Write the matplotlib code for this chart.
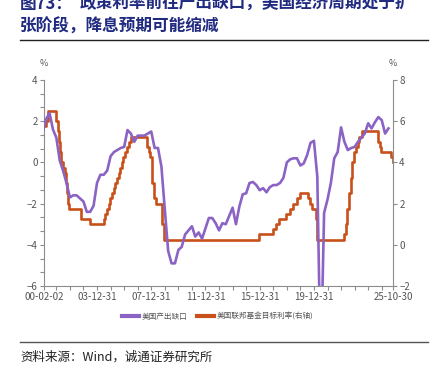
import numpy as np
import pandas as pd
import matplotlib
matplotlib.use("Agg")
import matplotlib.pyplot as plt
import matplotlib.dates as mdates
from matplotlib.ticker import MultipleLocator, FixedLocator, NullFormatter
from matplotlib.lines import Line2D

plt.rcParams['font.family'] = ['Noto Sans CJK SC', 'DejaVu Sans']

# US output gap (%), quarterly, quarter-end dates
gap_dates = pd.date_range("1999-12-31", "2025-06-30", freq="QE")
gap_vals = [
    1.5,
    2.1, 2.4, 1.6, 1.2,
    0.1, -0.4, -1.0, -1.7,
    -1.6, -1.6, -1.75, -1.9,
    -2.4, -2.4, -2.1, -1.0,
    -0.6, -0.6, -0.4, 0.3,
    0.5, 0.6, 0.7, 0.75,
    1.57, 1.4, 1.0, 1.3,
    1.3, 1.3, 1.4, 1.5,
    0.7, 0.7, -0.2, -2.3,
    -4.3, -4.9, -4.9, -4.25,
    -4.1, -3.5, -3.3, -3.1,
    -3.6, -3.4, -3.7, -3.2,
    -2.7, -2.7, -2.95, -3.3,
    -2.95, -3.0, -2.6, -2.2,
    -3.0, -2.15, -1.55, -1.5,
    -1.0, -0.95, -1.1, -1.35,
    -1.25, -1.45, -1.2, -1.1,
    -1.1, -1.0, -0.75, 0.0,
    0.15, 0.2, 0.2, -0.15,
    -0.05, 0.35, 0.95, 1.05,
    -0.7, -10.2, -2.45, -1.8,
    -1.0, 0.2, 0.5, 1.7,
    1.0, 0.6, 0.7, 0.75,
    1.0, 1.2, 1.4, 1.9,
    1.65, 1.95, 2.2, 2.05,
    1.4, 1.65,
]

# Fed funds target rate (upper bound, %), dates of change
ff_dates = pd.to_datetime([
    "2000-02-02", "2000-03-21", "2000-05-16",
    "2001-01-03", "2001-01-31", "2001-03-20", "2001-04-18", "2001-05-15",
    "2001-06-27", "2001-08-21", "2001-09-17", "2001-10-02", "2001-11-06",
    "2001-12-11", "2002-11-06", "2003-06-25",
    "2004-06-30", "2004-08-10", "2004-09-21", "2004-11-10", "2004-12-14",
    "2005-02-02", "2005-03-22", "2005-05-03", "2005-06-30", "2005-08-09",
    "2005-09-20", "2005-11-01", "2005-12-13", "2006-01-31", "2006-03-28",
    "2006-05-10", "2006-06-29",
    "2007-09-18", "2007-10-31", "2007-12-11", "2008-01-22", "2008-01-30",
    "2008-03-18", "2008-04-30", "2008-10-08", "2008-10-29", "2008-12-16",
    "2015-12-16", "2016-12-14", "2017-03-15", "2017-06-14", "2017-12-13",
    "2018-03-21", "2018-06-13", "2018-09-26", "2018-12-19",
    "2019-07-31", "2019-09-18", "2019-10-30", "2020-03-03", "2020-03-15",
    "2022-03-16", "2022-05-04", "2022-06-15", "2022-07-27", "2022-09-21",
    "2022-11-02", "2022-12-14", "2023-02-01", "2023-03-22", "2023-05-03",
    "2023-07-26", "2024-09-18", "2024-11-07", "2024-12-18",
    "2025-09-17", "2025-10-29", "2025-10-30",
])
ff_vals = [
    5.75, 6.0, 6.5,
    6.0, 5.5, 5.0, 4.5, 4.0,
    3.75, 3.5, 3.0, 2.5, 2.0,
    1.75, 1.25, 1.0,
    1.25, 1.5, 1.75, 2.0, 2.25,
    2.5, 2.75, 3.0, 3.25, 3.5,
    3.75, 4.0, 4.25, 4.5, 4.75,
    5.0, 5.25,
    4.75, 4.5, 4.25, 3.5, 3.0,
    2.25, 2.0, 1.5, 1.0, 0.25,
    0.5, 0.75, 1.0, 1.25, 1.5,
    1.75, 2.0, 2.25, 2.5,
    2.25, 2.0, 1.75, 1.25, 0.25,
    0.5, 1.0, 1.75, 2.5, 3.25,
    4.0, 4.5, 4.75, 5.0, 5.25,
    5.5, 5.0, 4.75, 4.5,
    4.25, 4.0, 4.0,
]

label_dates = ["2000-02-02", "2003-12-31", "2007-12-31", "2011-12-31",
               "2015-12-31", "2019-12-31", "2025-10-30"]
label_texts = ["00-02-02", "03-12-31", "07-12-31", "11-12-31",
               "15-12-31", "19-12-31", "25-10-30"]
minor_dates = [f"{y}-12-31" for y in range(2000, 2025)]

purple = "#8B63C4"
orange = "#C8501A"
axis_gray = "#8C8C8C"
text_gray = "#555555"
navy = "#1F2A80"

fig = plt.figure(figsize=(4.35, 3.81), dpi=100)
ax = fig.add_axes([44 / 435, 1 - 286 / 381, (393 - 44) / 435, (286 - 80) / 381])
ax2 = ax.twinx()

ax.plot(gap_dates, gap_vals, color=purple, lw=1.9, zorder=3)
ax2.plot(ff_dates, ff_vals, color=orange, lw=1.9, drawstyle="steps-post", zorder=2)
ax.set_zorder(ax2.get_zorder() + 1)
ax.patch.set_visible(False)

start, end = pd.Timestamp("2000-02-02"), pd.Timestamp("2025-10-30")
ax.set_xlim(start, end)
ax.set_ylim(-6, 4)
ax2.set_ylim(-2, 8)

# x ticks: labelled ones plus one tick per year end
ax.xaxis.set_major_locator(FixedLocator(mdates.date2num(pd.to_datetime(label_dates))))
ax.set_xticklabels(label_texts)
ax.xaxis.set_minor_locator(FixedLocator(mdates.date2num(pd.to_datetime(minor_dates))))
ax.xaxis.set_minor_formatter(NullFormatter())

ax.yaxis.set_major_locator(MultipleLocator(2))
ax.yaxis.set_minor_locator(MultipleLocator(2 / 3))
ax2.yaxis.set_major_locator(MultipleLocator(2))

for a in (ax, ax2):
    for s in a.spines.values():
        s.set_visible(False)
    a.tick_params(which="both", colors=axis_gray, labelcolor=text_gray,
                  labelsize=7, length=3, width=0.8, direction="out", pad=1.5)

ax.spines["left"].set_visible(True)
ax.spines["bottom"].set_visible(True)
ax2.spines["right"].set_visible(True)
for s in (ax.spines["left"], ax.spines["bottom"], ax2.spines["right"]):
    s.set_color(axis_gray)
    s.set_linewidth(0.8)

ax.text(0, 1.08, "%", transform=ax.transAxes, ha="center", va="center",
        fontsize=6.5, color=text_gray)
ax2.text(1, 1.08, "%", transform=ax2.transAxes, ha="center", va="center",
         fontsize=6.5, color=text_gray)

# legend
handles = [Line2D([], [], color=purple, lw=3), Line2D([], [], color=orange, lw=3)]
fig.legend(handles, ["美国产出缺口", "美国联邦基金目标利率(右轴)"],
           loc="center", bbox_to_anchor=(218 / 435, 1 - 317 / 381), ncol=2,
           frameon=False, fontsize=5.5, handlelength=2.2, handletextpad=0.4,
           columnspacing=1.2, labelcolor=text_gray)

# title (first line partly cut off at the top, as in the source page)
fig.text(20 / 435, 1 - 4 / 381, "图73：", fontsize=12, color=navy,
         fontweight="bold", va="center", ha="left")
fig.text(80 / 435, 1 - 4 / 381, "政策利率前往产出缺口，美国经济周期处于扩",
         fontsize=12, color=navy, fontweight="bold", va="center", ha="left")
fig.text(20 / 435, 1 - 27 / 381, "张阶段，降息预期可能缩减", fontsize=12,
         color=navy, fontweight="bold", va="center", ha="left")

fig.add_artist(Line2D([20 / 435, 428 / 435], [1 - 40 / 381, 1 - 40 / 381],
                      color="#222222", lw=1.0))
fig.add_artist(Line2D([20 / 435, 428 / 435], [1 - 342 / 381, 1 - 342 / 381],
                      color="#555555", lw=1.0))
fig.text(20 / 435, 1 - 357 / 381, "资料来源：Wind，诚通证券研究所", fontsize=9,
         color="#222222", va="center", ha="left")

fig.savefig("out.png", dpi=100)
